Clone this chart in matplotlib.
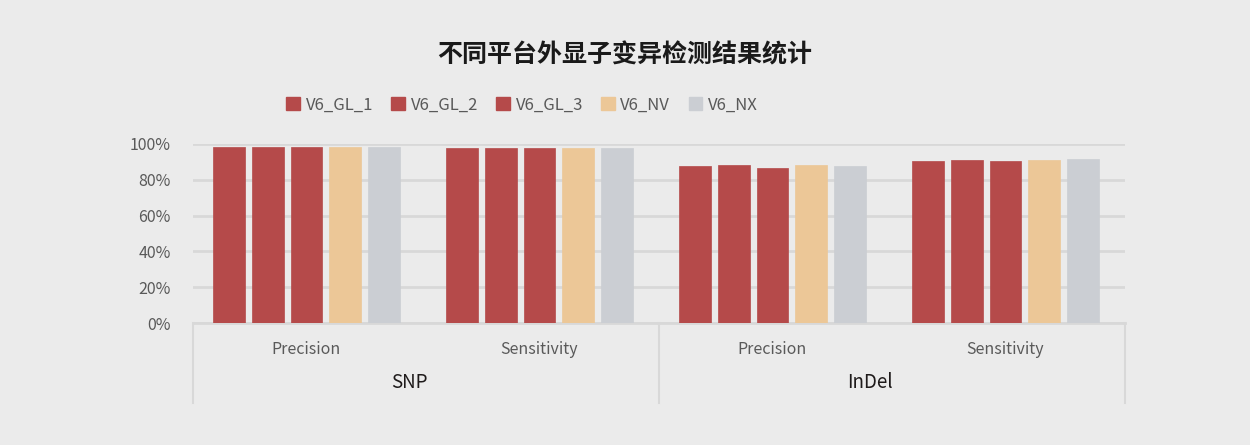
import matplotlib
matplotlib.use("Agg")
import matplotlib.pyplot as plt
import numpy as np
from matplotlib.patches import Patch

plt.rcParams['font.family'] = ['Noto Sans CJK SC', 'DejaVu Sans']

title = "不同平台外显子变异检测结果统计"
groups = ["SNP", "InDel"]
metrics = ["Precision", "Sensitivity", "Precision", "Sensitivity"]
series = ["V6_GL_1", "V6_GL_2", "V6_GL_3", "V6_NV", "V6_NX"]
values = {
    "V6_GL_1": [0.982, 0.978, 0.879, 0.907],
    "V6_GL_2": [0.982, 0.978, 0.880, 0.909],
    "V6_GL_3": [0.982, 0.978, 0.868, 0.903],
    "V6_NV":   [0.981, 0.978, 0.883, 0.909],
    "V6_NX":   [0.981, 0.978, 0.879, 0.916],
}
colors = ["#b54a4a", "#b54a4a", "#b54a4a", "#ecc797", "#cbced3"]
yticks = [0, 0.2, 0.4, 0.6, 0.8, 1.0]
ytick_labels = ["0%", "20%", "40%", "60%", "80%", "100%"]

bg = "#ebebeb"
fig = plt.figure(figsize=(12.5, 4.45), dpi=100, facecolor=bg)
ax = fig.add_axes([193/1250, 1-323/445, (1125-193)/1250, 179/445])
ax.set_facecolor(bg)

x = np.arange(len(metrics))
step = 0.166
width = 0.137
for i, s in enumerate(series):
    off = (i - 2) * step
    ax.bar(x + off, values[s], width=width, color=colors[i], zorder=3,
           edgecolor=colors[i], linewidth=0.5)

shift = 0.013
ax.set_xlim(-0.5 + shift, len(metrics) - 0.5 + shift)
ax.set_ylim(0, 1.0)
ax.set_yticks(yticks)
ax.set_yticklabels(ytick_labels, fontsize=11.5, color="#595959")
ax.tick_params(axis='y', length=0, pad=16)
ax.set_xticks([])
ax.yaxis.grid(True, color="#d8d8d8", linewidth=2, zorder=0)
ax.set_axisbelow(True)
for sp in ["top", "right", "left"]:
    ax.spines[sp].set_visible(False)
ax.spines["bottom"].set_color("#d8d8d8")
ax.spines["bottom"].set_linewidth(2)

ybot = -80/179
for xf in [0, 0.5, 1.0]:
    ax.plot([xf, xf], [0, ybot], color="#d8d8d8", lw=1.5, transform=ax.transAxes, clip_on=False)
trans = ax.get_xaxis_transform()
for i, m in enumerate(metrics):
    ax.text(i, -26/179, m, transform=trans, ha="center", va="center",
            fontsize=11.5, color="#595959")
group_x = [0.44, 2.42]
for j, g in enumerate(groups):
    ax.text(group_x[j], -60/179, g, transform=trans, ha="center", va="center",
            fontsize=13.5, color="#1e1a1a", fontweight="medium")

fig.text(0.5, 1-55/445, title, ha="center", va="center", fontsize=18,
         fontweight="bold", color="#1a1a1a")

handles = [Patch(facecolor=colors[i], edgecolor=colors[i], label=s) for i, s in enumerate(series)]
leg = fig.legend(handles=handles, loc="center", bbox_to_anchor=(522/1250, 1-105/445),
                 ncol=5, frameon=False, handlelength=0.8, handleheight=0.8,
                 handletextpad=0.35, columnspacing=1.1, fontsize=12)
for t in leg.get_texts():
    t.set_color("#595959")

fig.savefig("out.png", dpi=100, facecolor=bg)
